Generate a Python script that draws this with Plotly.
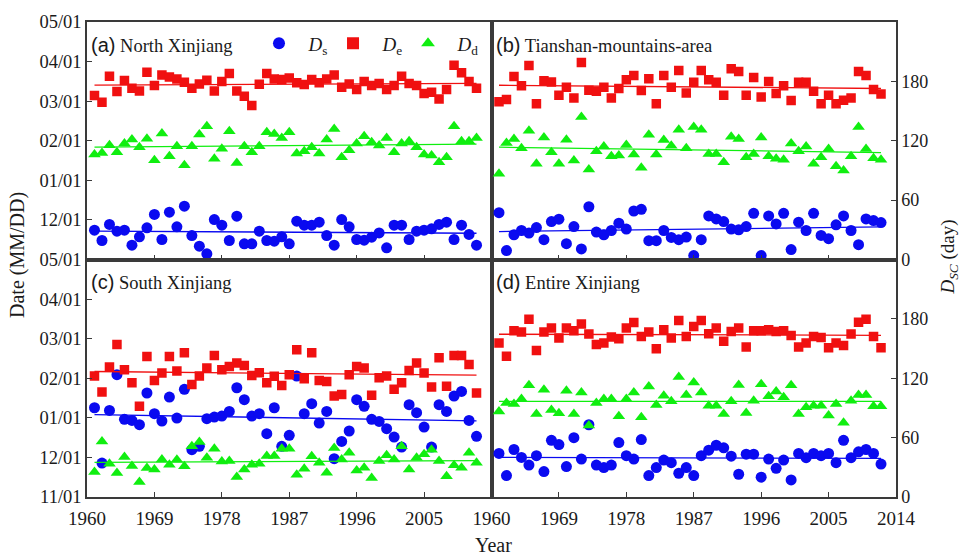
import numpy as np
import plotly.graph_objects as go
from plotly.subplots import make_subplots

years = list(range(1961, 2013))

# values on the shared 0-240 panel scale (left: 40 per month from 11/01; right: days)
north_ds = [29.6,19.2,35.4,28.6,29.6,14.5,22.9,32.0,45.5,20.2,47.8,33.0,53.9,24.2,13.5,5.7,40.4,34.7,19.2,43.8,
            15.8,15.8,28.6,19.2,18.5,22.9,15.8,38.7,34.7,34.7,37.7,24.2,14.5,40.4,33.0,20.2,19.5,22.6,26.9,11.8,
            34.7,34.7,20.2,28.6,29.6,31.0,35.4,37.7,20.2,34.7,25.3,14.5]
north_de = [165.7,158.9,185.2,169.7,180.8,173.1,170.4,189.2,175.8,186.5,184.5,182.5,179.1,173.1,177.4,181.1,170.4,179.8,187.9,170.4,
            165.0,155.6,177.1,187.9,182.5,181.8,183.5,178.5,176.8,181.8,178.5,182.5,186.5,174.1,177.4,171.7,179.8,175.8,177.8,171.7,
            175.8,185.2,177.8,175.8,167.7,169.0,162.3,171.7,196.3,188.6,179.8,173.1]
north_dd = [106.1,107.7,115.5,108.4,117.2,121.2,113.5,121.9,100.3,127.3,104.4,114.5,95.3,114.5,126.3,134.7,101.7,111.8,129.6,97.6,
            114.5,108.4,114.5,128.6,126.9,122.9,128.6,107.1,109.4,113.5,107.1,121.2,132.0,103.4,110.4,117.2,124.6,118.5,115.2,122.9,
            108.4,117.2,119.5,113.5,106.1,105.1,98.3,103.4,134.7,119.5,119.5,122.9]

tian_ds = [47.3,9,25,29.3,26.7,32.3,20,38.3,40.7,16,33.3,10.7,53.3,27.7,25,29.3,36.7,30.7,49,50.7,
           19,19,29.3,22.3,20,22.7,4,20,44,41,38.3,30.7,30,33.3,46.7,4,44,36,46.7,10,
           37.7,29.3,46.7,24.3,21,35,44,29.3,15,41,39.3,37.3]
tian_de = [159.3,161.7,185,175.7,196,157.3,180.7,179.3,166,174,163.3,199,171,170,174,163.3,172.7,181.7,186,170.7,
           182.7,157.3,186,174,191,168.3,179,191,181.7,179,166,192.7,190,166,184,164.3,180,167.7,175.7,160.7,
           179,179,170,157.3,166,157.3,161,163.3,190,186,171.7,167.3]
tian_dd = [86.7,117.7,121.7,112.3,130,96.7,123.3,108.3,96.7,121,100,144,91,109.3,114.3,104.3,105,115.7,106,92.7,
           126,106,120.7,115,131,112.3,134,131,106.7,106.7,98.3,124,121.7,103.3,106.7,123.3,104.3,101.7,100.7,117.3,
           109.3,114.3,96.7,103.3,111.7,94.3,90,104.3,134,111.7,102.3,100.7]

south_ds = [90.2,34.3,87.5,123.6,78.5,77.4,73.1,105.1,84.2,76.8,101.0,79.8,108.8,47.8,51.2,79.1,80.8,81.8,86.5,110.4,
            98.3,81.8,84.2,64.0,90.2,51.2,62.3,122.2,84.2,94.3,74.7,86.5,38.7,56.2,66.7,98.3,91.6,78.5,76.4,69.0,
            60.6,50.5,93.3,85.2,70.7,50.5,93.3,86.5,102.0,106.7,77.4,61.3]
south_de = [122.2,106.1,131.3,154.2,128.6,115.5,91.6,142.1,117.8,125.3,142.1,127.3,145.8,113.8,122.2,130.3,143.1,128.6,132.0,135.4,
            133.0,122.9,125.6,115.5,121.9,112.8,123.6,148.8,119.5,145.8,117.8,116.8,102.0,103.7,123.6,132.0,130.3,102.7,120.5,122.2,
            108.8,115.5,127.9,135.4,125.3,111.1,140.7,111.8,143.1,143.1,134.0,105.1]
south_dd = [25.3,56.2,33.7,24.2,40.4,31.3,15.2,29.3,27.9,38.0,32.7,37.7,31.0,51.2,55.6,39.7,48.8,36.0,36.4,20.2,
            27.9,32.7,33.7,41.4,41.4,48.8,48.8,22.6,28.6,41.1,34.7,24.6,49.5,38.0,44.8,26.9,29.6,19.2,36.4,42.1,
            38.0,51.2,27.9,39.7,43.1,47.8,36.4,20.9,32.0,29.6,44.8,34.7]

entire_ds = [44,21.7,48,40,32.3,41.7,25.7,57.3,53,30.7,60,38.3,73,32.3,29.7,32.3,55,41.7,38.3,58,
             21.7,29.7,37.3,34.7,24,29.7,21.7,41.7,47.3,52.3,49.7,41.3,23,43.3,43.3,20,38.3,29,37.3,17.3,
             44,39.7,44,41.7,44,34.7,57.3,39.7,45.7,48,44,33.3]
entire_de = [155.7,142.3,168,166.7,179.7,148,166.7,170.7,160.7,170.7,168,174.7,164.7,154,155.7,161.7,160,170.7,176.3,162.3,
             166.7,149.7,169,160.7,178.3,162.3,172.3,178.3,165,170.7,157.3,167.3,170.7,151.7,168,168,169,167.3,168,163.3,
             151.7,155.7,162.3,161.3,150.7,155.7,153,164.7,176.7,179.7,162.3,150.7]
entire_dd = [86.3,95,94,99,113,84,108.3,88,84.7,107.3,84,105.7,72.3,95,99,99,81.7,99,105.7,80.7,
             111.7,93,102.3,96.7,121.3,103,115.7,105.7,92.3,92.3,84,96.7,113.3,85,97.3,114,101.7,106.7,100.7,113,
             84,90.7,92.3,92.3,82.3,94,75,97.3,103,103,91.7,91.7]

x_ticks = [1960, 1969, 1978, 1987, 1996, 2005, 2014]
date_vals = [0, 40, 80, 120, 160, 200, 240]
date_text_top = ["05/01", "12/01", "01/01", "02/01", "03/01", "04/01", "05/01"]
date_text_bottom = ["11/01", "12/01", "01/01", "02/01", "03/01", "04/01", ""]
day_vals = [0, 60, 120, 180]

SERIF = "Liberation Serif"
SANS = "Liberation Sans"
C_S, C_E, C_D = "#0A0AF0", "#F01010", "#10EE10"

panels = [
    (1, 1, "(a)", "North Xinjiang", north_ds, north_de, north_dd),
    (1, 2, "(b)", "Tianshan-mountains-area", tian_ds, tian_de, tian_dd),
    (2, 1, "(c)", "South Xinjiang", south_ds, south_de, south_dd),
    (2, 2, "(d)", "Entire Xinjiang", entire_ds, entire_de, entire_dd),
]

fig = make_subplots(rows=2, cols=2, horizontal_spacing=0, vertical_spacing=0)

series_style = [
    ("&nbsp;&nbsp;<i>D</i><sub>s</sub>", C_S, "circle", 11, "legend"),
    ("&nbsp;&nbsp;<i>D</i><sub>e</sub>", C_E, "square", 9.5, "legend2"),
    ("&nbsp;&nbsp;<i>D</i><sub>d</sub>", C_D, "triangle-up", 11, "legend3"),
]

yr = np.array(years, dtype=float)
for (r, c, tag, name, ds, de, dd) in panels:
    for (lbl, col, sym, sz, lg), vals in zip(series_style, [ds, de, dd]):
        fig.add_trace(go.Scatter(
            x=years, y=vals, mode="markers", name=lbl, legend=lg,
            marker=dict(color=col, symbol=sym, size=sz, line=dict(width=0)),
            showlegend=(r == 1 and c == 1)), row=r, col=c)
    for (lbl, col, sym, sz, lg), vals in zip(series_style, [ds, de, dd]):
        k, b = np.polyfit(yr, np.array(vals), 1)
        xs = [years[0], years[-1]]
        fig.add_trace(go.Scatter(
            x=xs, y=[k * v + b for v in xs], mode="lines",
            line=dict(color=col, width=1.3), showlegend=False, hoverinfo="skip"), row=r, col=c)

axis_common = dict(showline=True, linecolor="#3a3a3a", linewidth=1.5, mirror=True,
                   showgrid=False, zeroline=False, ticklen=5, tickwidth=1.2,
                   tickcolor="#3a3a3a")

for (r, c, tag, name, *_rest) in panels:
    fig.update_xaxes(range=[1960, 2014], tickvals=x_ticks if c == 2 else x_ticks[:-1],
                     ticks="inside", showticklabels=(r == 2), row=r, col=c,
                     ticklabelstandoff=3,
                     tickfont=dict(family=SERIF, size=19, color="#1a1a1a"), **axis_common)
    if c == 1:
        fig.update_yaxes(range=[0, 240], tickvals=date_vals,
                         ticktext=date_text_top if r == 1 else date_text_bottom,
                         ticks="inside", row=r, col=c,
                         tickfont=dict(family=SERIF, size=18.5, color="#1a1a1a"), **axis_common)
    else:
        fig.update_yaxes(range=[0, 240], tickvals=day_vals, side="right",
                         ticks="inside", row=r, col=c,
                         tickfont=dict(family=SERIF, size=18, color="#1a1a1a"), **axis_common)
    ax = fig.get_subplot(r, c)
    xd = ax.xaxis.plotly_name.replace("axis", "")
    yd = ax.yaxis.plotly_name.replace("axis", "")
    fig.add_annotation(xref=f"{xd} domain", yref=f"{yd} domain", x=0.006, y=0.905,
                       xanchor="left", yanchor="middle", showarrow=False,
                       text=f"<span style='font-family:{SANS};font-size:20px'>{tag}</span> {name}",
                       font=dict(family=SERIF, size=18.5, color="#1a1a1a"))

fig.add_annotation(xref="paper", yref="paper", x=-0.085, y=0.51, textangle=-90,
                   xanchor="center", yanchor="middle",
                   text="Date (MM/DD)", showarrow=False,
                   font=dict(family=SERIF, size=20, color="#1a1a1a"))
fig.add_annotation(xref="paper", yref="paper", x=0.503, y=-0.1, xanchor="center", yanchor="middle",
                   text="Year", showarrow=False,
                   font=dict(family=SERIF, size=20, color="#1a1a1a"))
fig.add_annotation(xref="paper", yref="paper", x=1.066, y=0.505, textangle=-90,
                   xanchor="center", yanchor="middle",
                   text="<i>D</i><sub><i>SC</i></sub> (day)", showarrow=False,
                   font=dict(family=SERIF, size=19, color="#1a1a1a"))

leg_common = dict(orientation="h", y=0.955, xanchor="left", yanchor="middle",
                  bgcolor="rgba(0,0,0,0)", font=dict(family=SERIF, size=19, color="#1a1a1a"),
                  itemsizing="constant")
fig.update_layout(
    width=965, height=555,
    margin=dict(l=87, r=69, t=20, b=58),
    paper_bgcolor="white", plot_bgcolor="white",
    legend=dict(x=0.2126, **leg_common),
    legend2=dict(x=0.3041, **leg_common),
    legend3=dict(x=0.3968, **leg_common),
)

fig.write_html("out.html")
